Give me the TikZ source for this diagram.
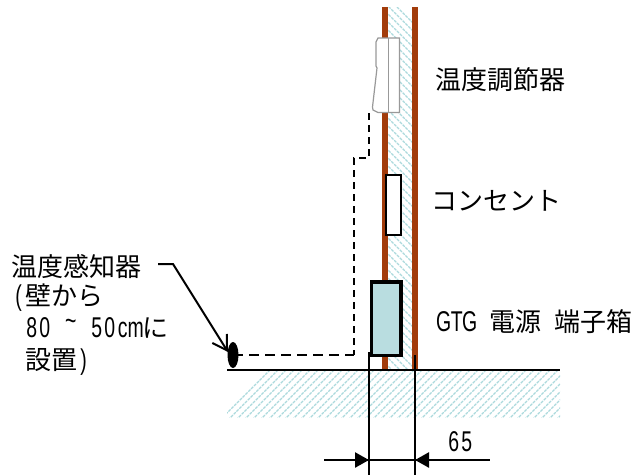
\documentclass[tikz,border=0pt]{standalone}
\usepackage{fontspec}
\setmainfont{Noto Sans CJK JP}
\newfontfamily\hw[FakeStretch=0.68,Scale=1.1]{Liberation Sans}
\newcommand\hc[1]{\makebox[13pt]{\hw #1}}
\usetikzlibrary{arrows.meta,shapes.geometric}
\definecolor{brownwall}{HTML}{A23C0B}
\definecolor{hatchc}{HTML}{ABD9DC}
\definecolor{boxc}{HTML}{B9DDE0}
\tikzset{
 wallline/.style={draw=none,fill=brownwall},
 hatchline/.style={draw=hatchc,line width=1.1pt,dash pattern=on 3pt off 1pt},
 lbl/.style={anchor=west,inner sep=0pt,font=\fontsize{26}{26}\selectfont},
 blk/.style={draw=black,line width=2pt}
}
\begin{document}
\begin{tikzpicture}[x=1pt,y=-1pt]
\useasboundingbox (0,0) rectangle (638,475);
% wall hatch
\begin{scope}
\clip (388,7) rectangle (412,370);
\foreach \i in {-10,-2,...,380}{\draw[hatchline] (380,\i) -- ++(40,40);}
\end{scope}
% ground hatch
\begin{scope}
\clip (227,370) rectangle (560,417);
\foreach \i in {220,228,...,620}{\draw[hatchline] (\i,420) -- ++(55,-55);}
\end{scope}
\fill[wallline] (382,7) rectangle (388,370);
\fill[wallline] (412,7) rectangle (417.5,370);
% thermostat
\path[draw=black!40,fill=white,line width=1.2pt] (378,38) -- (399.5,38) -- (399.5,112.5) -- (378,112.5) -- (373,110) -- (372.5,107) -- (377,68) -- (376,66) -- (376,42) -- cycle;
\draw[black!40,line width=1.8pt] (388.5,38) -- (388.5,112.5);
% outlet
\node[blk,fill=white,minimum width=15pt,minimum height=60pt,inner sep=0pt,anchor=north west] (outlet) at (384.5,173.5) {};
% terminal box
\node[draw=black,line width=3.5pt,fill=boxc,minimum width=29.5pt,minimum height=73.5pt,inner sep=0pt,anchor=north west] (box) at (369.5,280) {};
% sensor
\node[ellipse,fill=black,minimum width=11pt,minimum height=26pt,inner sep=0pt] (sensor) at (233,355) {};
% dashed wiring
\coordinate (tstat) at (369,113);
\coordinate (c1) at (369,158);
\coordinate (c2) at (354,158);
\coordinate (c3) at (354,355);
\draw[line width=2pt,dash pattern=on 7pt off 5pt] (tstat) -- (c1) -- (c2) -- (c3);
\draw[line width=2pt,dash pattern=on 10pt off 6pt] (sensor.center) -- (c3);
% ground
\coordinate (g1) at (227,370);
\coordinate (g2) at (560,370);
\draw[line width=1.6pt] (g1) -- (g2);
% dim lines
\coordinate (d1a) at (369,352);
\coordinate (d1b) at (369,475);
\coordinate (d2a) at (415,355);
\coordinate (d2b) at (415,475);
\draw[line width=1.5pt] (d1a) -- (d1b);
\draw[line width=1.5pt] (d2a) -- (d2b);
\coordinate (e1) at (324,460);
\coordinate (e2) at (369,460);
\coordinate (e3) at (415,460);
\coordinate (e4) at (490,460);
\draw[line width=1.2pt] (e1) -- (e4);
\draw[line width=2.5pt,-{Triangle[length=14pt,width=15pt,sep=0pt]}] (339,460) -- (e2);
\draw[line width=2.5pt,-{Triangle[length=14pt,width=15pt,sep=0pt]}] (445,460) -- (e3);
% leader
\coordinate (l1) at (158,264);
\coordinate (l2) at (173,264);
\coordinate (l3) at (228,352);
\draw[line width=2pt,-{Straight Barb[length=14pt,width=17pt]}] (l1) -- (l2) -- (l3);
% text
\node[lbl] (t1) at (435,80) {温度調節器};
\node[lbl] (t2) at (431,201) {コンセント};
\node[lbl] (t3) at (437,322) {\hc{G}\hc{T}\hc{G}\hspace{13pt}電源\hspace{13pt}端子箱};
\node[lbl] (t4) at (11,267) {温度感知器};
\node[lbl] (t5) at (12,298) {\hc{(}壁から};
\node[lbl] (t6) at (25,328) {\hc{8}\hc{0}\hspace{13pt}\hc{\smash{\raisebox{7pt}{\textasciitilde}}}\hspace{13pt}\hc{5}\hc{0}\hc{c}\hc{m}に};
\node[lbl] (t7) at (25,362) {設置\hc{)}};
\node[lbl] (t8) at (447,442) {\hc{6}\hc{5}};
\end{tikzpicture}
\end{document}
